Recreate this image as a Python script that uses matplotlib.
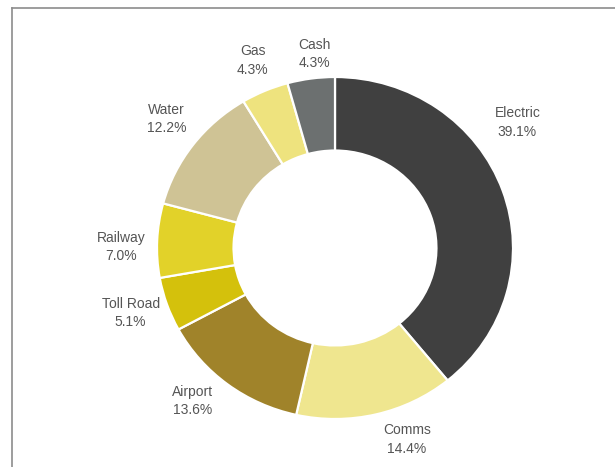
import numpy as np
import matplotlib.pyplot as plt
from matplotlib.lines import Line2D

# share of total by sector, clockwise from 12 o'clock
sectors = ["Electric", "Comms", "Airport", "Toll Road", "Railway", "Water", "Gas", "Cash"]
shares = [39.1, 14.4, 13.6, 5.1, 7.0, 12.2, 4.3, 4.3]
colors = ["#404040", "#efe68f", "#a0832a", "#d4c10c", "#e2d229", "#cfc395", "#eee37e", "#6c7070"]

plt.rcParams["font.family"] = ["Liberation Sans", "DejaVu Sans"]

W, H = 615, 467
fig = plt.figure(figsize=(W / 100, H / 100), dpi=100)

# donut placement in pixels (slightly wider than tall, like the original)
cx, cy, rx_px, ry_px = 335, 248, 178, 171
lim = 1.3
ax = fig.add_axes([(cx - lim * rx_px) / W, (H - cy - lim * ry_px) / H,
                   2 * lim * rx_px / W, 2 * lim * ry_px / H])

wedges, _ = ax.pie(
    shares,
    colors=colors,
    startangle=90,
    counterclock=False,
    radius=1.0,
    wedgeprops=dict(width=0.43, edgecolor="white", linewidth=1.6),
)
ax.set_xlim(-lim, lim)
ax.set_ylim(-lim, lim)
ax.set_aspect("auto")
ax.axis("off")

# label tweaks: (angle offset in degrees, distance in radii)
nudge = {
    "Electric": (16.0, 1.26),
    "Comms": (6.5, 1.19),
    "Airport": (-4.8, 1.20),
    "Toll Road": (-0.9, 1.21),
    "Railway": (2.3, 1.20),
    "Water": (-1.4, 1.21),
    "Gas": (-0.4, 1.19),
    "Cash": (-1.8, 1.14),
}
for w, name, val in zip(wedges, sectors, shares):
    da, dist = nudge[name]
    ang = np.deg2rad((w.theta1 + w.theta2) / 2 + da)
    ax.text(dist * np.cos(ang), dist * np.sin(ang), f"{name}\n{val:.1f}%",
            ha="center", va="center", fontsize=10, color="#555555",
            linespacing=1.4)

# chart frame (top and left edges visible)
fig.add_artist(Line2D([11.5 / W, 11.5 / W], [0, 1 - 8 / H], color="#8c8c8c", lw=1.2))
fig.add_artist(Line2D([11.5 / W, 1], [1 - 8 / H, 1 - 8 / H], color="#8c8c8c", lw=1.2))

fig.savefig("out.png", dpi=100)
